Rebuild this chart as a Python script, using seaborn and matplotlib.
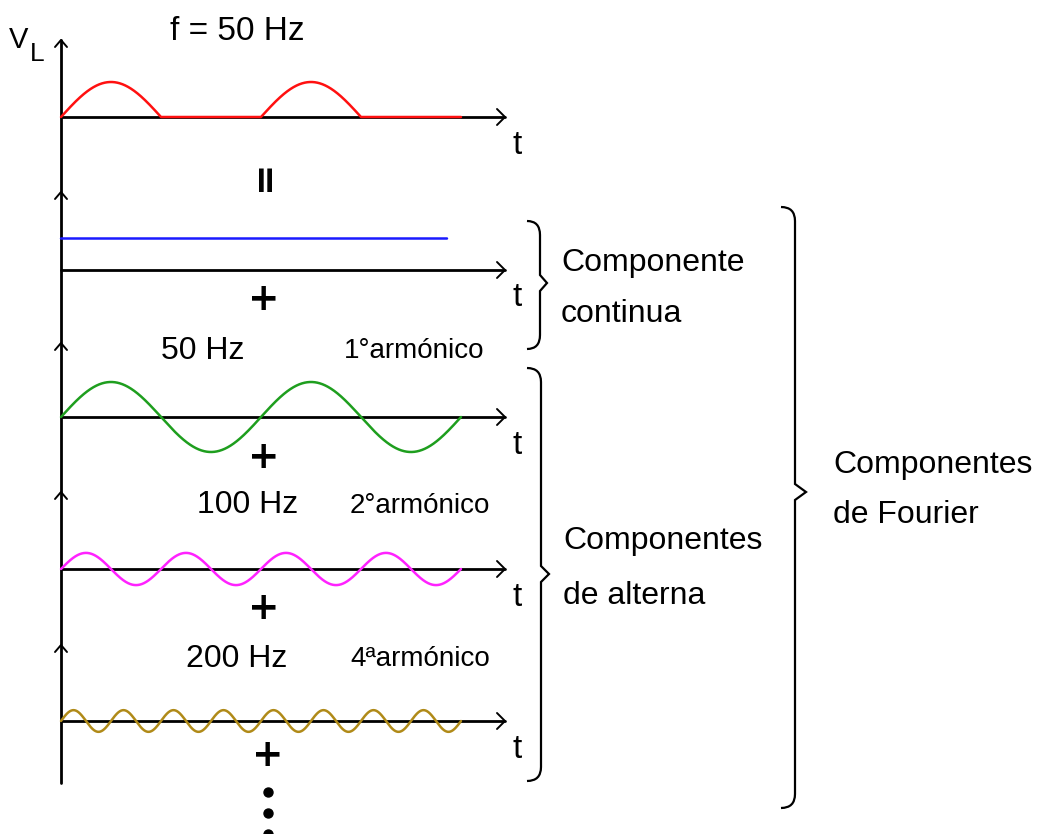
import numpy as np
import pandas as pd
import matplotlib
matplotlib.use("Agg")
import matplotlib.pyplot as plt
from matplotlib.path import Path
from matplotlib.patches import PathPatch
import seaborn as sns

# ---------------- data ----------------
components = ["rectified", "dc", "h1", "h2", "h4"]
waveforms = ["halfwave", "const", "sine", "sine", "sine"]
freqs_hz = [50, 0, 50, 100, 200]
amplitudes = [1.0, 0.9, 1.0, 0.46, 0.31]
t_end_ms = [40.0, 38.6, 40.0, 40.0, 40.0]
freq_labels = ["50 Hz", "100 Hz", "200 Hz"]
harmonic_labels = ["1°armónico", "2°armónico", "4ªarmónico"]
group_labels = [["Componente", "continua"], ["Componentes", "de alterna"], ["Componentes", "de Fourier"]]
title_text = "f = 50 Hz"

# ---------------- styles / layout ----------------
colors = {"rectified": "#ff1010", "dc": "#1a1aff", "h1": "#1e9e1e",
          "h2": "#ff22ff", "h4": "#b08a18"}
W, H = 1044, 834
x_axis = 61
x_axis_end = 505
px_per_ms = 10.0
amp_px = 35.0
baselines = [117, 270, 417, 569, 721]
arrow_tops = [40, 192, 343, 492, 645]
axis_bottom = 783

sns.set_theme(style="white")
plt.rcParams["font.family"] = ["Liberation Sans", "DejaVu Sans"]
plt.rcParams["text.color"] = "black"

fig = plt.figure(figsize=(W / 100, H / 100), dpi=100)
ax = fig.add_axes([0, 0, 1, 1])
ax.set_xlim(0, W)
ax.set_ylim(H, 0)
ax.axis("off")

# build waveform table
rows = []
for comp, wf, f, a, te, base in zip(components, waveforms, freqs_hz, amplitudes, t_end_ms, baselines):
    t = np.linspace(0, te, 1601)
    if wf == "halfwave":
        v = a * np.clip(np.sin(2 * np.pi * f * t / 1000.0), 0, None)
    elif wf == "const":
        v = a * np.ones_like(t)
    else:
        v = a * np.sin(2 * np.pi * f * t / 1000.0)
    rows.append(pd.DataFrame({"comp": comp,
                              "x": x_axis + t * px_per_ms,
                              "y": base - v * amp_px}))
df = pd.concat(rows, ignore_index=True)

# axes (drawn first)
ax.plot([x_axis, x_axis], [arrow_tops[0], axis_bottom], color="black", lw=2.0, zorder=1)
for yt in arrow_tops:
    ax.plot([x_axis - 6, x_axis, x_axis + 6], [yt + 7, yt, yt + 7], color="black", lw=1.4, zorder=1)
for b in baselines:
    ax.plot([x_axis, x_axis_end], [b, b], color="black", lw=2.0, zorder=1)
    ax.plot([x_axis_end - 8, x_axis_end, x_axis_end - 8], [b - 8, b, b + 8], color="black", lw=1.4, zorder=1)
    ax.text(517, b + 28, "t", fontsize=24, ha="center", va="center", color="black")

sns.lineplot(data=df, x="x", y="y", hue="comp", palette=colors, estimator=None,
             sort=False, legend=False, linewidth=1.8, ax=ax, zorder=3)
ax.set_xlim(0, W)
ax.set_ylim(H, 0)
ax.axis("off")

# texts
ax.text(237, 31, title_text, fontsize=24, ha="center", va="center", color="black")
ax.text(19, 40, "V", fontsize=21, ha="center", va="center", color="black")
ax.text(37, 54, "L", fontsize=19, ha="center", va="center", color="black")
ax.text(264, 175, "=", fontsize=27, fontweight="bold", rotation=90,
        ha="center", va="center", family="DejaVu Sans", color="black")
for (px, py) in [(264, 300), (264, 458), (264, 609), (268, 756)]:
    ax.text(px, py, "+", fontsize=27, fontweight="bold", ha="center", va="center",
            family="DejaVu Sans", color="black")
ax.scatter([268, 268, 268], [792, 813, 834], s=42, color="black", zorder=4, clip_on=False)

freq_pos = [(203, 351), (248, 505), (237, 659)]
harm_pos = [(414, 351), (420, 506), (420, 659)]
for lab, (px, py) in zip(freq_labels, freq_pos):
    ax.text(px, py, lab, fontsize=23, ha="center", va="center", color="black")
for lab, (px, py) in zip(harmonic_labels, harm_pos):
    ax.text(px, py, lab, fontsize=20, ha="center", va="center", color="black")

group_pos = [(561, 263, 314), (563, 541, 596), (833, 465, 515)]
for lab, (px, py1, py2) in zip(group_labels, group_pos):
    ax.text(px, py1, lab[0], fontsize=23, ha="left", va="center", color="black")
    ax.text(px, py2, lab[1], fontsize=23, ha="left", va="center", color="black")

# braces
def brace(x0, x1, xtip, top, bottom, mid):
    verts = [(x0, top), (x1, top), (x1, top + 14),
             (x1, mid - 8), (xtip, mid), (x1, mid + 8),
             (x1, bottom - 14), (x1, bottom), (x0, bottom)]
    codes = [Path.MOVETO, Path.CURVE3, Path.CURVE3,
             Path.LINETO, Path.LINETO, Path.LINETO,
             Path.LINETO, Path.CURVE3, Path.CURVE3]
    ax.add_patch(PathPatch(Path(verts, codes), fill=False, lw=1.6, edgecolor="black"))

brace(527, 540, 547, 221, 349, 283)
brace(527, 541, 549, 368, 781, 574)
brace(781, 795, 806, 207, 808, 492)

fig.savefig("out.png", dpi=100)
